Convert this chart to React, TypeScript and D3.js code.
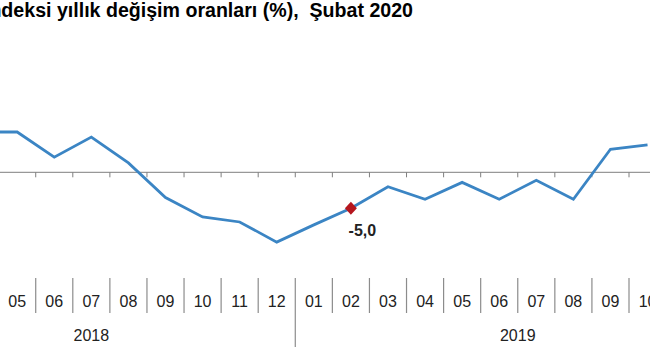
import React from "react";
import * as d3 from "d3";

const months = [
  "02","03","04","05","06","07","08","09","10","11","12",
  "01","02","03","04","05","06","07","08","09","10","11","12",
  "01","02",
];
const years = ["2018","2019","2020"];
const yearOf = [
  "2018","2018","2018","2018","2018","2018","2018","2018","2018","2018","2018",
  "2019","2019","2019","2019","2019","2019","2019","2019","2019","2019","2019","2019",
  "2020","2020",
];
// values readable in the picture (null = outside the visible crop)
const values: (number | null)[] = [
  null, null, 5.6, 5.6, 2.1, 4.9, 1.3, -3.5, -6.2, -6.9, -9.7,
  -7.3, -5.0, -2.0, -3.75, -1.4, -3.75, -1.1, -3.75, 3.2, 3.8, null, null,
  null, null,
];
const highlightIndex = 12;
const highlightLabel = "-5,0";
const title = "Sanayi üretim endeksi yıllık değişim oranları (%),  Şubat 2020";

const W = 650;
const H = 360;
const keys = months.map((m, i) => `${yearOf[i]}-${m}-${i}`);

export default function App() {
  const step = 37.08;
  const x0 = -112.6;
  const x = d3.scaleBand<string>().domain(keys).range([x0, x0 + step * keys.length]).padding(0);
  const y = d3.scaleLinear().domain([-10, 10]).range([244.3, 100.3]);
  const cx = (i: number) => (x(keys[i]) as number) + x.bandwidth() / 2;

  const pts = values.map((v, i) => ({ v, i }));
  const line = d3
    .line<{ v: number | null; i: number }>()
    .defined((d) => d.v !== null)
    .x((d) => cx(d.i))
    .y((d) => y(d.v as number));

  const y0 = y(0);
  const boundaries = keys.map((k) => x(k) as number);
  const hv = values[highlightIndex] as number;
  const hx = cx(highlightIndex);
  const hy = y(hv);

  return (
    <svg width={W} height={H} style={{ position: "absolute", left: 0, top: 0, background: "#fff" }}>
      <rect width={W} height={H} fill="#fff" />
      <text
        x={413}
        y={17}
        textAnchor="end"
        fontFamily="'Liberation Sans', Arial, sans-serif"
        fontWeight="bold"
        fontSize={19.6}
        fill="#000"
        style={{ whiteSpace: "pre" }}
      >
        {title}
      </text>
      {/* zero line */}
      <line x1={0} x2={W} y1={y0} y2={y0} stroke="#7f7f7f" strokeWidth={1} />
      {boundaries.map((b, i) => (
        <line key={"t" + i} x1={b} x2={b} y1={y0} y2={y0 + 5} stroke="#7f7f7f" strokeWidth={1} />
      ))}
      <path d={line(pts) || ""} fill="none" stroke="#3b85c4" strokeWidth={2.8} strokeLinejoin="miter" />
      <path
        d={`M${hx},${hy - 6.5} L${hx + 6},${hy} L${hx},${hy + 6.5} L${hx - 6},${hy} Z`}
        fill="#b5161e"
      />
      <text
        x={hx + 11.5}
        y={hy + 28}
        textAnchor="middle"
        fontFamily="'Liberation Sans', Arial, sans-serif"
        fontWeight="bold"
        fontSize={16}
        fill="#222"
      >
        {highlightLabel}
      </text>
      {/* category axis */}
      {boundaries.map((b, i) => {
        const isYear = i > 0 && yearOf[i] !== yearOf[i - 1];
        return (
          <line
            key={"s" + i}
            x1={b}
            x2={b}
            y1={278}
            y2={isYear ? 347 : 313}
            stroke="#8c8c8c"
            strokeWidth={1.2}
          />
        );
      })}
      {months.map((m, i) => (
        <text
          key={"m" + i}
          x={cx(i)}
          y={306.5}
          textAnchor="middle"
          fontFamily="'Liberation Sans', Arial, sans-serif"
          fontSize={16}
          fill="#222"
        >
          {m}
        </text>
      ))}
      {years.map((yr) => {
        const idx = yearOf.map((v, i) => (v === yr ? i : -1)).filter((i) => i >= 0);
        const a = x(keys[idx[0]]) as number;
        const b = (x(keys[idx[idx.length - 1]]) as number) + x.bandwidth();
        return (
          <text
            key={yr}
            x={(a + b) / 2}
            y={340.5}
            textAnchor="middle"
            fontFamily="'Liberation Sans', Arial, sans-serif"
            fontSize={16}
            fill="#222"
          >
            {yr}
          </text>
        );
      })}
    </svg>
  );
}
